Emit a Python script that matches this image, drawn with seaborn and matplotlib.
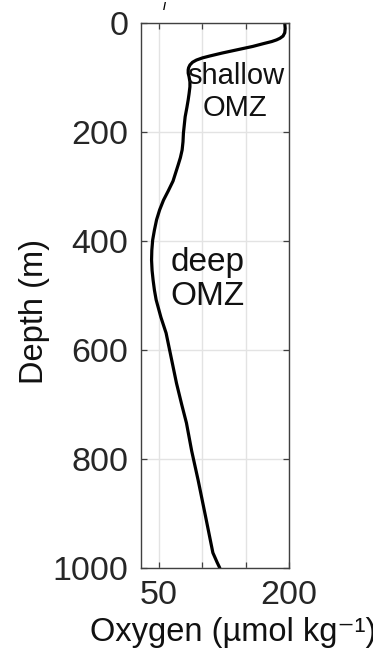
import matplotlib
matplotlib.use("Agg")
import matplotlib.pyplot as plt
import pandas as pd
import seaborn as sns

# Oxygen profile
depth = [0, 10, 18, 24, 28, 31, 34, 38, 43, 49.5, 55, 60.5, 64, 68, 72, 77,
         82, 86, 92, 98.5, 108, 117, 130, 141, 155, 172, 187, 202, 218, 233,
         247, 260, 275, 290, 308, 325, 343, 361, 380, 398, 417, 435, 454,
         472, 490, 508, 540, 569, 615, 661, 700, 734, 785, 839, 905, 972,
         990, 1000]
oxygen = [195, 195.5, 195, 193, 189.5, 185.5, 180, 170, 158, 139, 123, 108.5,
          100, 93, 88.5, 85.5, 84, 83.5, 83.5, 84.5, 85.5, 85.5, 84.5, 83.5,
          82, 80, 79, 78, 77.5, 76.5, 74.5, 72, 69, 66, 60.5, 55, 50.5, 47,
          44.5, 42.5, 41.5, 41.2, 41.8, 43, 44.5, 46.5, 52, 58, 64, 70, 76,
          81.5, 87.5, 95, 103.5, 112, 117, 120]

xticks = [50, 100, 150, 200]
xticklabels = ['50', '', '', '200']
yticks = [0, 200, 400, 600, 800, 1000]

df = pd.DataFrame({'depth': depth, 'oxygen': oxygen})

sns.set_style("ticks")
plt.rcParams['font.family'] = ['Liberation Sans', 'DejaVu Sans']

fig = plt.figure(figsize=(3.73, 6.61), dpi=100)
ax = fig.add_axes([0.378, 0.1407, 0.397, 0.8245])

sns.lineplot(data=df, x='oxygen', y='depth', sort=False, estimator=None,
             color='black', linewidth=2.3, ax=ax,
             solid_joinstyle='round', solid_capstyle='round')

ax.set_xlim(29, 200)
ax.set_ylim(1000, 0)
ax.set_xticks(xticks)
ax.set_xticklabels(xticklabels)
ax.set_yticks(yticks)
ax.grid(True, color='#e3e3e3', linewidth=1.0)
ax.set_axisbelow(True)

ax.tick_params(direction='in', length=4, width=0.9, color='#404040',
               labelsize=24.5, labelcolor='#262626', pad=9,
               top=True, right=True)
for s in ax.spines.values():
    s.set_color('#404040')
    s.set_linewidth(1.0)

ax.set_xlabel('Oxygen (µmol kg⁻¹)', fontsize=23.5, color='#111111')
ax.xaxis.set_label_coords(0.62, -0.09)
ax.set_ylabel('Depth (m)', fontsize=23.5, color='#111111',
              va='center', ha='center')
ax.yaxis.set_label_coords(-0.72, 0.47)

ax.text(138, 127, 'shallow\nOMZ', fontsize=21, ha='center', va='center',
        multialignment='center', linespacing=1.2, color='#111111')
ax.text(106, 471, 'deep\nOMZ', fontsize=24, ha='center', va='center',
        multialignment='center', linespacing=1.15, color='#111111')

# tail of a cut-off panel label at the top edge
fig.text(0.442, 0.990, '/', fontsize=8, fontweight='bold', ha='center',
         va='center', color='black')

fig.savefig('out.png', dpi=100)
